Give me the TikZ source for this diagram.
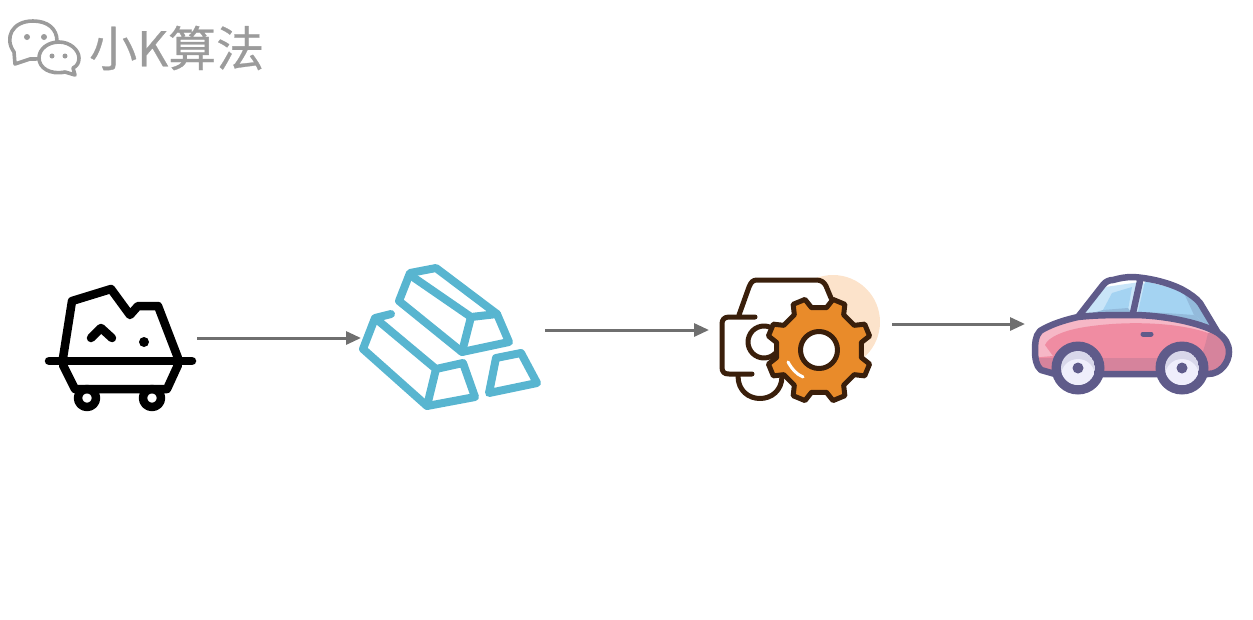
\documentclass[tikz,border=0pt]{standalone}
\usepackage{fontspec}
\newfontfamily\cjk[FakeBold=0.6]{Noto Sans CJK SC}
\usetikzlibrary{arrows.meta}
\definecolor{logogray}{HTML}{9B9B9B}
\definecolor{flowgray}{HTML}{6F6F6F}
\definecolor{barblue}{HTML}{58B5D0}
\definecolor{gearbrown}{HTML}{3A1F0B}
\definecolor{gearorange}{HTML}{E98B2A}
\definecolor{gearback}{HTML}{FCE3CB}
\definecolor{carline}{HTML}{5F5B8A}
\definecolor{carpink}{HTML}{F08CA2}
\definecolor{carlight}{HTML}{F6B7C6}
\definecolor{carshade}{HTML}{D6839C}
\definecolor{glasspale}{HTML}{C9E5F8}
\definecolor{glassblue}{HTML}{A4D3F2}
\definecolor{glassdark}{HTML}{93BADB}
\definecolor{rimpale}{HTML}{EFEEFB}
\definecolor{rimdark}{HTML}{D8D7EA}
\tikzset{
  flow/.style={draw=flowgray,line width=3pt,-{Triangle[length=15pt,width=13pt]}},
  orepen/.style={draw=black,line width=8.5pt,line cap=round,line join=round},
  barpen/.style={draw=barblue,line width=8pt,line cap=round,line join=round},
  gearpen/.style={draw=gearbrown,line width=5pt,line cap=round,line join=round},
  carpen/.style={draw=carline,line width=6.5pt,line cap=round,line join=round},
  logopen/.style={draw=logogray,line width=3.6pt,line join=round,fill=white},
}
\begin{document}
\begin{tikzpicture}[x=1pt,y=-1pt]
\useasboundingbox (0,0) rectangle (1253,619);

\coordinate(oreout) at (197,338);
\coordinate(barin) at (361,338);
\coordinate(barout) at (545,330);
\coordinate(gearin) at (709,330);
\coordinate(gearout) at (892,324);
\coordinate(carin) at (1025,324);
\coordinate(gear) at (819,350);

% logo
\node [font=\cjk\fontsize{48}{48}\selectfont,text=logogray,anchor=west,inner sep=0pt] (logo) at (89,48) {小K算法};
\draw [logopen] (14,52) .. controls (4,38) and (12,21) .. (33,21) .. controls (48,21) and (57,29) .. (57,41)
   .. controls (57,54) and (44,60) .. (30,59) -- (15,64) -- cycle;
\draw [logopen] (59,42) .. controls (70,42) and (79,50) .. (79,58) .. controls (79,63) and (77,66) .. (73,68)
   -- (75,75) -- (65,72) .. controls (50,75) and (39,68) .. (39,58) .. controls (39,49) and (48,42) .. (59,42) -- cycle;
\foreach \p in {(27,37),(44,37)}
       \fill [logogray] \p circle (3pt);
\foreach \p in {(52,56),(65,56)}
       \fill [logogray] \p circle (2.5pt);

% ore cart
\draw [orepen] (63,358) -- (72,301) -- (111,289) -- (130,315) -- (138,306) -- (158,306) -- (178,358);
\draw [orepen] (49,361) -- (192,361);
\draw [orepen] (63,365) -- (75,389) -- (167,389) -- (178,365);
\draw [orepen] (91,338) -- (101,328) -- (112,338);
\fill [black] (144,342) circle (5pt);
\foreach \p in {87,152}
       \draw [orepen] (\p,398) circle (9pt);

% gold bars
\draw [barpen] (399,301) -- (410,273) -- (436,268) -- (497,314) -- (509,342) -- (462,352) -- cycle;
\draw [barpen] (410,275) -- (471,317) -- (497,314);
\draw [barpen] (471,317) -- (462,352);
\draw [barpen] (391,314) -- (375,318) -- (363,349) -- (427,406) -- (475,397) -- (463,363) -- (436,369) -- (375,318);
\draw [barpen] (436,369) -- (427,406);
\draw [barpen] (489,393) -- (496,358) -- (521,353) -- (537,383) -- cycle;

% car part with gear
\fill [gearback] (833,322) circle (47pt);
\fill [white] (739,315) -- (749,287) .. controls (751,282) and (753,280) .. (757,280) -- (816,280)
   .. controls (821,280) and (824,282) .. (826,286) -- (831,298) -- (831,340) -- (739,340) -- cycle;
\draw [gearpen] (739,315) -- (749,287) .. controls (751,282) and (753,280) .. (757,280) -- (816,280)
   .. controls (821,280) and (824,282) .. (826,286) -- (831,298);
\draw [gearpen] (755,317) -- (729,317) .. controls (724,317) and (722,320) .. (722,324) -- (722,367)
   .. controls (722,372) and (724,374) .. (729,374) -- (752,374);
\draw [gearpen] (764,342) circle (16pt);
\draw [gearpen] (738,376) .. controls (738,406) and (782,406) .. (782,376);
\draw [gearpen,fill=gearorange] ([shift={(gear)}]10:43pt)
   \foreach \a in {22.5,67.5,...,337.5} {
     -- ([shift={(gear)}]\a-12.5:43pt) -- ([shift={(gear)}]\a-7:52.5pt) -- ([shift={(gear)}]\a+7:52.5pt) -- ([shift={(gear)}]\a+12.5:43pt)
   } -- cycle;
\draw [gearpen,fill=white] (gear) circle (18.5pt);
\draw [draw=white,line width=3pt,line cap=round] (788,362) .. controls (792,369) and (796,374) .. (803,377);

% car
\fill [glasspale] (1080,316) -- (1105,287) -- (1140,282) -- (1200,305) -- (1216,332) -- (1133,314) -- cycle;
\fill [glassblue] (1103,310) -- (1112,293) -- (1132,287) -- (1128,310) -- cycle;
\fill [glassdark] (1085,315) -- (1103,310) -- (1128,308) -- (1132,314) -- cycle;
\fill [glassblue] (1138,312) -- (1145,281) -- (1183,291) -- (1200,305) -- (1215,331) -- cycle;
\fill [glassdark] (1183,291) -- (1200,305) -- (1215,331) -- (1194,315) -- cycle;
\fill [glassdark] (1140,312) -- (1165,313) -- (1194,315) -- (1214,331) -- cycle;
\draw [carpen] (1078,317) -- (1103,285) .. controls (1106,281) and (1110,280) .. (1113,280)
   .. controls (1120,278) and (1126,277) .. (1133,277) .. controls (1150,278) and (1170,283) .. (1183,290)
   .. controls (1190,294) and (1196,298) .. (1200,303) -- (1218,333);
\draw [carpen] (1140,281) -- (1133,313);
\draw [carpen,fill=carlight,path picture={
   \fill [carpink] (1045,345) .. controls (1048,337) and (1065,330) .. (1085,327) .. controls (1130,320) and (1180,323) .. (1208,333)
      -- (1240,380) -- (1030,380) -- (1030,358) -- (1053,356) -- cycle;
   \fill [carshade] (1030,358) -- (1240,358) -- (1240,380) -- (1030,380) -- cycle;
   \fill [carshade] (1208,333) .. controls (1206,342) and (1204,350) .. (1200,358) -- (1240,358) -- (1240,325) -- cycle;
  }] (1078,317) .. controls (1060,321) and (1048,326) .. (1040,331) .. controls (1035,336) and (1035,345) .. (1035,350)
   .. controls (1035,358) and (1036,366) .. (1041,370) -- (1055,374) -- (1208,374)
   .. controls (1221,374) and (1229,362) .. (1229,352) .. controls (1229,344) and (1225,338) .. (1218,333)
   .. controls (1200,322) and (1160,315) .. (1133,315) .. controls (1115,315) and (1095,315) .. (1078,317) -- cycle;
\draw [carline,line width=5pt,line cap=round] (1143,334) -- (1151,334);
\foreach \p in {1078,1182}
  {
   \fill [carline] (\p,368) circle (26.5pt);
   \begin{scope}
     \clip (\p,368) circle (17pt);
     \fill [rimdark] (\p,368) circle (17pt);
     \fill [rimpale] (\p,376) circle (17pt);
   \end{scope}
   \fill [carline] (\p,368) circle (5.5pt);
  }

\draw [flow] (oreout) -- (barin);
\draw [flow] (barout) -- (gearin);
\draw [flow] (gearout) -- (carin);
\end{tikzpicture}
\end{document}
